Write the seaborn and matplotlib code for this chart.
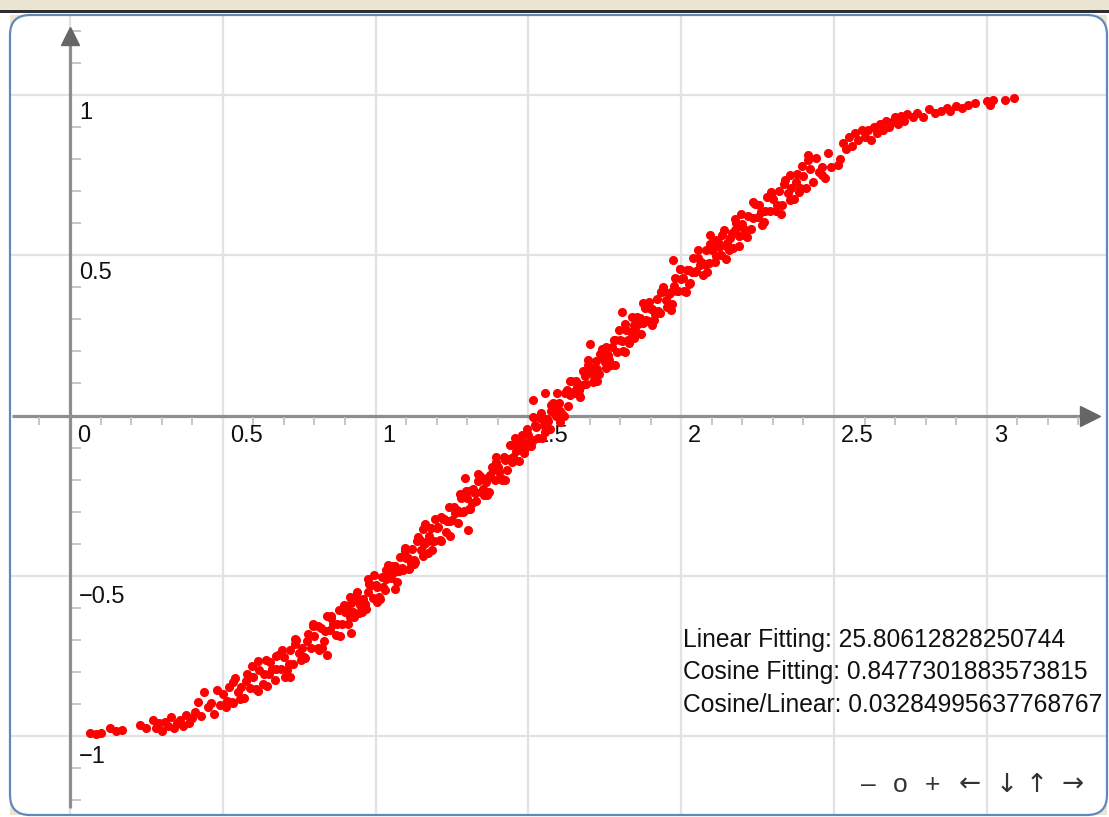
import matplotlib
matplotlib.use("Agg")
import matplotlib.pyplot as plt
import matplotlib.transforms as mtrans
from matplotlib.patches import FancyBboxPatch, Rectangle
import seaborn as sns

# ---------------- data ----------------
tail_left_x = [0.065, 0.085, 0.10, 0.13, 0.15, 0.17, 0.23, 0.25, 0.27, 0.28, 0.29, 0.30,
               0.31, 0.32, 0.33, 0.34, 0.35, 0.36, 0.37, 0.38, 0.39, 0.40, 0.41]
tail_left_y = [-0.99, -0.995, -0.99, -0.975, -0.985, -0.98, -0.965, -0.975, -0.95, -0.975,
               -0.96, -0.985, -0.955, -0.97, -0.94, -0.975, -0.96, -0.95, -0.97, -0.935,
               -0.96, -0.945, -0.925]

band_x = [0.42, 0.43, 0.44, 0.45, 0.46, 0.47, 0.48, 0.49, 0.50,
          0.51, 0.52, 0.53, 0.54, 0.55, 0.56, 0.57, 0.58, 0.59, 0.60,
          0.61, 0.62, 0.63, 0.64, 0.65, 0.66, 0.67, 0.68, 0.69, 0.70,
          0.71, 0.72, 0.73, 0.74, 0.75, 0.76, 0.77, 0.78, 0.79, 0.80,
          0.81, 0.82, 0.83, 0.84, 0.85, 0.86, 0.87, 0.88, 0.89, 0.90,
          0.91, 0.92, 0.93, 0.94, 0.95, 0.96, 0.97, 0.98, 0.99, 1.00,
          1.01, 1.02, 1.03, 1.04, 1.05, 1.06, 1.07, 1.08, 1.09, 1.10,
          1.11, 1.12, 1.13, 1.14, 1.15, 1.16, 1.17, 1.18, 1.19, 1.20,
          1.21, 1.22, 1.23, 1.24, 1.25, 1.26, 1.27, 1.28, 1.29, 1.30,
          1.31, 1.32, 1.33, 1.34, 1.35, 1.36, 1.37, 1.38, 1.39, 1.40,
          1.41, 1.42, 1.43, 1.44, 1.45, 1.46, 1.47, 1.48, 1.49, 1.50,
          1.51, 1.52, 1.53, 1.54, 1.55, 1.56, 1.57, 1.58, 1.59, 1.60,
          1.61, 1.62, 1.63, 1.64, 1.65, 1.66, 1.67, 1.68, 1.69, 1.70,
          1.71, 1.72, 1.73, 1.74, 1.75, 1.76, 1.77, 1.78, 1.79, 1.80,
          1.81, 1.82, 1.83, 1.84, 1.85, 1.86, 1.87, 1.88, 1.89, 1.90,
          1.91, 1.92, 1.93, 1.94, 1.95, 1.96, 1.97, 1.98, 1.99, 2.00,
          2.01, 2.02, 2.03, 2.04, 2.05, 2.06, 2.07, 2.08, 2.09, 2.10,
          2.11, 2.12, 2.13, 2.14, 2.15, 2.16, 2.17, 2.18, 2.19, 2.20,
          2.21, 2.22, 2.23, 2.24, 2.25, 2.26, 2.27, 2.28, 2.29, 2.30,
          2.31, 2.32, 2.33, 2.34, 2.35, 2.36, 2.37, 2.38, 2.39, 2.40,
          2.41, 2.42, 2.43, 2.44, 2.45, 2.46, 2.47, 2.48, 2.49,
          2.52, 2.53, 2.54, 2.55, 2.56, 2.57, 2.58, 2.59, 2.60]
band_y = [-0.893, -0.938, -0.864, -0.910, -0.896, -0.931, -0.857, -0.902, -0.868,
          -0.908, -0.848, -0.893, -0.818, -0.863, -0.847, -0.882, -0.806, -0.851, -0.815,
          -0.854, -0.793, -0.838, -0.762, -0.806, -0.790, -0.824, -0.747, -0.791, -0.755,
          -0.793, -0.732, -0.775, -0.699, -0.742, -0.725, -0.758, -0.681, -0.724, -0.687,
          -0.725, -0.662, -0.705, -0.627, -0.670, -0.652, -0.685, -0.607, -0.650, -0.612,
          -0.649, -0.586, -0.628, -0.550, -0.592, -0.574, -0.605, -0.527, -0.568, -0.530,
          -0.567, -0.503, -0.545, -0.466, -0.508, -0.489, -0.520, -0.442, -0.483, -0.444,
          -0.480, -0.416, -0.457, -0.378, -0.419, -0.400, -0.430, -0.351, -0.391, -0.352,
          -0.388, -0.323, -0.364, -0.284, -0.325, -0.305, -0.336, -0.256, -0.297, -0.257,
          -0.292, -0.228, -0.268, -0.189, -0.229, -0.209, -0.239, -0.160, -0.200, -0.160,
          -0.195, -0.130, -0.171, -0.091, -0.131, -0.111, -0.141, -0.061, -0.101, -0.061,
          -0.096, -0.031, -0.071, 0.009, -0.031, -0.011, -0.041, 0.039, -0.001, 0.039,
          0.004, 0.069, 0.029, 0.109, 0.069, 0.089, 0.059, 0.139, 0.099, 0.139,
          0.104, 0.169, 0.128, 0.208, 0.168, 0.188, 0.158, 0.237, 0.197, 0.237,
          0.202, 0.267, 0.226, 0.306, 0.266, 0.285, 0.255, 0.334, 0.294, 0.333,
          0.297, 0.362, 0.321, 0.401, 0.360, 0.379, 0.348, 0.428, 0.387, 0.426,
          0.390, 0.454, 0.413, 0.492, 0.451, 0.470, 0.439, 0.517, 0.476, 0.515,
          0.478, 0.542, 0.500, 0.579, 0.537, 0.555, 0.524, 0.602, 0.561, 0.599,
          0.562, 0.624, 0.582, 0.660, 0.618, 0.636, 0.603, 0.681, 0.638, 0.676,
          0.638, 0.701, 0.658, 0.736, 0.693, 0.710, 0.677, 0.753, 0.710, 0.747,
          0.709, 0.770, 0.727, 0.803, 0.760, 0.776, 0.742, 0.819, 0.775,
          0.800, 0.850, 0.830, 0.870, 0.840, 0.880, 0.860, 0.890, 0.870]

wide_x = [0.615, 0.645, 0.675, 0.705, 0.735, 0.765, 0.795, 0.825, 0.855, 0.885,
          0.915, 0.945, 0.975, 1.005, 1.035, 1.065, 1.095, 1.125, 1.155, 1.185,
          1.215, 1.245, 1.275, 1.305, 1.335, 1.365, 1.395, 1.425, 1.455, 1.485,
          1.515, 1.545, 1.575, 1.605, 1.635, 1.665, 1.695, 1.725, 1.755, 1.785,
          1.815, 1.845, 1.875, 1.905, 1.935, 1.965, 1.995, 2.025, 2.055, 2.085,
          2.115, 2.145, 2.175, 2.205, 2.235, 2.265, 2.295, 2.325, 2.355, 2.385, 2.415]
wide_y = [-0.766, -0.844, -0.751, -0.817, -0.697, -0.752, -0.651, -0.724, -0.626, -0.688,
          -0.565, -0.616, -0.511, -0.581, -0.481, -0.540, -0.413, -0.462, -0.354, -0.421,
          -0.318, -0.375, -0.246, -0.292, -0.183, -0.249, -0.145, -0.200, -0.071, -0.116,
          -0.006, -0.071, 0.034, -0.021, 0.109, 0.064, 0.174, 0.109, 0.213, 0.157,
          0.287, 0.241, 0.350, 0.283, 0.386, 0.329, 0.456, 0.409, 0.515, 0.447,
          0.548, 0.488, 0.613, 0.563, 0.666, 0.594, 0.692, 0.630, 0.751, 0.697, 0.797]

core_x = [0.905, 0.925, 0.945, 0.965, 0.985, 1.005, 1.025, 1.045, 1.065, 1.085,
          1.105, 1.125, 1.145, 1.165, 1.185, 1.205, 1.225, 1.245, 1.265, 1.285,
          1.305, 1.325, 1.345, 1.365, 1.385, 1.405, 1.425, 1.445, 1.465, 1.485,
          1.505, 1.525, 1.545, 1.565, 1.585, 1.605, 1.625, 1.645, 1.665, 1.685,
          1.705, 1.725, 1.745, 1.765, 1.785, 1.805, 1.825, 1.845, 1.865, 1.885,
          1.905, 1.925, 1.945, 1.965, 1.985, 2.005, 2.025, 2.045, 2.065, 2.085,
          2.105, 2.125, 2.145, 2.165, 2.185, 2.205]
core_y = [-0.603, -0.612, -0.581, -0.589, -0.528, -0.536, -0.534, -0.492, -0.470, -0.477,
          -0.445, -0.452, -0.389, -0.395, -0.391, -0.347, -0.324, -0.330, -0.296, -0.301,
          -0.237, -0.243, -0.239, -0.194, -0.170, -0.175, -0.140, -0.146, -0.081, -0.086,
          -0.081, -0.036, -0.011, -0.016, 0.019, 0.014, 0.079, 0.074, 0.079, 0.124,
          0.149, 0.144, 0.178, 0.173, 0.237, 0.232, 0.237, 0.281, 0.305, 0.299,
          0.333, 0.327, 0.390, 0.384, 0.387, 0.430, 0.454, 0.447, 0.479, 0.472,
          0.534, 0.526, 0.528, 0.570, 0.591, 0.583]

fill_x = [0.515, 0.535, 0.555, 0.575, 0.595, 0.615, 0.635, 0.655, 0.675, 0.695,
          0.715, 0.735, 0.755, 0.775, 0.795, 0.815, 0.835, 0.855, 0.875, 0.895,
          0.915, 0.935, 0.955, 0.975, 0.995, 1.015, 1.035, 1.055, 1.075, 1.095,
          1.115, 1.135, 1.155, 1.175, 1.195, 1.215, 1.235, 1.255, 1.275, 1.295,
          1.315, 1.335, 1.355, 1.375, 1.395, 1.415, 1.435, 1.455, 1.475, 1.495,
          1.515, 1.535, 1.555, 1.575, 1.595, 1.615, 1.635, 1.655, 1.675, 1.695,
          1.715, 1.735, 1.755, 1.775, 1.795, 1.815, 1.835, 1.855, 1.875, 1.895,
          1.915, 1.935, 1.955, 1.975, 1.995, 2.015, 2.035, 2.055, 2.075, 2.095,
          2.115, 2.135, 2.155, 2.175, 2.195, 2.215, 2.235, 2.255, 2.275, 2.295,
          2.315, 2.335, 2.355, 2.375, 2.395]
fill_y = [-0.891, -0.831, -0.885, -0.829, -0.783, -0.861, -0.805, -0.768, -0.791, -0.733,
          -0.775, -0.712, -0.764, -0.705, -0.656, -0.731, -0.671, -0.631, -0.651, -0.591,
          -0.630, -0.564, -0.613, -0.551, -0.499, -0.572, -0.511, -0.469, -0.486, -0.423,
          -0.461, -0.393, -0.439, -0.376, -0.322, -0.393, -0.329, -0.285, -0.301, -0.237,
          -0.273, -0.203, -0.249, -0.185, -0.130, -0.200, -0.136, -0.091, -0.106, -0.041,
          -0.076, -0.006, -0.051, 0.014, 0.069, -0.001, 0.064, 0.109, 0.094, 0.159,
          0.124, 0.193, 0.148, 0.213, 0.267, 0.197, 0.261, 0.306, 0.290, 0.353,
          0.317, 0.386, 0.340, 0.403, 0.456, 0.385, 0.448, 0.490, 0.473, 0.536,
          0.498, 0.564, 0.516, 0.578, 0.630, 0.556, 0.616, 0.657, 0.637, 0.697,
          0.657, 0.722, 0.671, 0.730, 0.779]

stray_x = [1.293, 1.302, 1.162, 1.515, 1.555, 1.806, 1.700, 1.973, 2.094, 2.190,
           0.810, 0.840, 0.920, 0.533, 0.720, 2.415, 2.460, 2.513]
stray_y = [-0.196, -0.357, -0.337, 0.048, 0.070, 0.322, 0.223, 0.485, 0.563, 0.530,
           -0.657, -0.747, -0.680, -0.898, -0.816, 0.812, 0.750, 0.781]

tail_right_x = [2.61, 2.62, 2.63, 2.64, 2.65, 2.66, 2.67, 2.68, 2.69, 2.70, 2.71, 2.72,
                2.73, 2.74, 2.76, 2.77, 2.79, 2.81, 2.83, 2.85, 2.87, 2.88, 2.90, 2.92,
                2.94, 2.96, 3.00, 3.01, 3.02, 3.06, 3.09]
tail_right_y = [0.89, 0.86, 0.90, 0.88, 0.91, 0.89, 0.92, 0.90, 0.915, 0.93, 0.91, 0.935,
                0.92, 0.94, 0.93, 0.945, 0.93, 0.955, 0.945, 0.95, 0.96, 0.95, 0.965, 0.96,
                0.97, 0.975, 0.98, 0.97, 0.985, 0.985, 0.99]

x_tick_values = [0, 0.5, 1, 1.5, 2, 2.5, 3]
x_tick_labels = ["0", "0.5", "1", "1.5", "2", "2.5", "3"]
y_tick_values = [1, 0.5, -0.5, -1]
y_tick_labels = ["1", "0.5", "\u22120.5", "\u22121"]
minor_x = [-0.1, 0.1, 0.2, 0.3, 0.4, 0.6, 0.7, 0.8, 0.9, 1.1, 1.2, 1.3, 1.4, 1.6, 1.7,
           1.8, 1.9, 2.1, 2.2, 2.3, 2.4, 2.6, 2.7, 2.8, 2.9, 3.1, 3.2, 3.3]
minor_y = [-1.2, -1.1, -0.9, -0.8, -0.7, -0.6, -0.4, -0.3, -0.2, -0.1,
           0.1, 0.2, 0.3, 0.4, 0.6, 0.7, 0.8, 0.9, 1.1, 1.2]
fit_lines = ["Linear Fitting: 25.80612828250744",
             "Cosine Fitting: 0.8477301883573815",
             "Cosine/Linear: 0.03284995637768767"]
nav_symbols = ["\u2013", "o", "+", "\u2190", "\u2193", "\u2191", "\u2192"]

# ---------------- figure ----------------
sns.set_theme(style="white")
plt.rcParams["font.family"] = ["Liberation Sans", "DejaVu Sans"]

W, H = 1109, 817
X0, Y0 = 70.0, 415.5      # pixel position of the origin
SX, SY = 305.6, 320.5     # pixels per unit

fig = plt.figure(figsize=(W / 100, H / 100), dpi=100)
fig.patch.set_facecolor("white")
ident = mtrans.IdentityTransform()

# browser chrome and board frame
for (cx, cy) in [(10, 780), (1085, 780), (10, 2), (1085, 2)]:
    fig.add_artist(Rectangle((cx, cy), 22, 22, transform=ident, facecolor="#ebe5d3",
                             edgecolor="none", zorder=-20))
fig.add_artist(Rectangle((0, H - 10), W, 10, transform=ident, facecolor="#ebe5d3",
                         edgecolor="none", zorder=-19))
fig.add_artist(Rectangle((0, H - 12.8), W, 2.8, transform=ident, facecolor="#2e2e2e",
                         edgecolor="none", zorder=-19))
board = FancyBboxPatch((10, 2), 1097, 800, boxstyle="round,pad=0,rounding_size=20",
                       transform=ident, facecolor="white", edgecolor="none", zorder=-10)
fig.add_artist(board)
frame = FancyBboxPatch((10, 2), 1097, 800, boxstyle="round,pad=0,rounding_size=20",
                       transform=ident, facecolor="none", edgecolor="#5f89bb",
                       linewidth=1.6, zorder=20)
fig.add_artist(frame)

ax = fig.add_axes([0, 0, 1, 1])
ax.set_facecolor("none")
ax.set_xlim(-X0 / SX, (W - X0) / SX)
ax.set_ylim((Y0 - H) / SY, Y0 / SY)
for s in ax.spines.values():
    s.set_visible(False)
ax.set_xticks(x_tick_values)
ax.set_yticks(y_tick_values)
ax.tick_params(length=0, labelbottom=False, labelleft=False)
ax.grid(True, color="#e2e2e2", linewidth=1.6)
for gl in ax.get_xgridlines() + ax.get_ygridlines():
    gl.set_clip_path(board)

# axes with arrows
ax.plot([-0.19, 3.33], [0, 0], color="#8e8e8e", lw=2.3, zorder=2, solid_capstyle="butt")
ax.plot([0, 0], [-1.225, 1.18], color="#8e8e8e", lw=2.3, zorder=2, solid_capstyle="butt")
ax.plot([3.338], [0], marker=">", ms=14, color="#666666", mec="#666666", zorder=3)
ax.plot([0], [1.1856], marker="^", ms=13.5, color="#666666", mec="#666666", zorder=3)

# minor ticks
ax.vlines(minor_x, -0.029, -0.004, color="#c2c2c2", lw=1.3, zorder=2)
ax.hlines(minor_y, 0.007, 0.036, color="#c2c2c2", lw=1.3, zorder=2)

# tick labels
for v, t in zip(x_tick_values, x_tick_labels):
    ax.annotate(t, xy=(v, 0), xytext=(7, -9), textcoords="offset pixels",
                ha="left", va="top", fontsize=17, color="#111111", zorder=4)
for v, t in zip(y_tick_values, y_tick_labels):
    ax.annotate(t, xy=(0, v), xytext=(9, -7 if v > 0 else -10), textcoords="offset pixels",
                ha="left", va="top", fontsize=17, color="#111111", zorder=4)

# data points
all_x = tail_left_x + band_x + wide_x + core_x + fill_x + stray_x + tail_right_x
all_y = tail_left_y + band_y + wide_y + core_y + fill_y + stray_y + tail_right_y
sns.scatterplot(x=all_x, y=all_y, color="#ff0000", s=43, linewidth=0, alpha=1.0,
                ax=ax, zorder=6, legend=False)

# fitting text
for line, base in zip(fit_lines, [646.5, 679.0, 711.5]):
    fig.text(683 / W, 1 - base / H, line, ha="left", va="baseline", fontsize=17.7,
             color="#111111", zorder=8)

# navigation buttons
nav_fonts = [["Liberation Sans"], ["Liberation Sans"], ["Liberation Sans"],
             ["DejaVu Sans"], ["DejaVu Sans"], ["DejaVu Sans"], ["DejaVu Sans"]]
for sym, cx, fam in zip(nav_symbols, [868, 900, 932, 970, 1007, 1037, 1073], nav_fonts):
    fig.text(cx / W, 1 - 792 / H, sym, ha="center", va="baseline", fontsize=19,
             family=fam, color="#333333", zorder=8)

fig.savefig("out.png", dpi=100)
